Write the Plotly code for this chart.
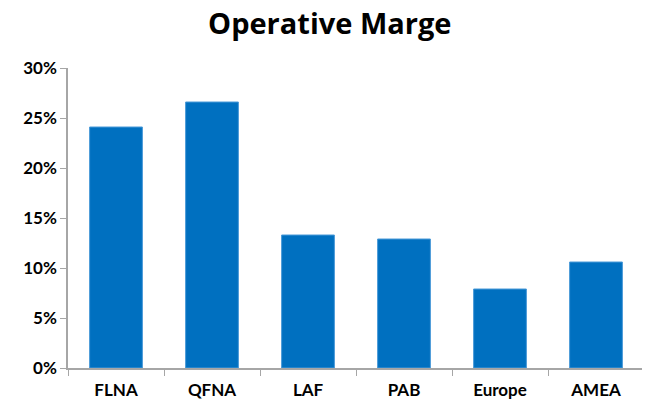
import plotly.graph_objects as go

# Dados
segmentos = ["FLNA", "QFNA", "LAF", "PAB", "Europe", "AMEA"]
margem = [0.241, 0.266, 0.133, 0.129, 0.079, 0.106]
y_ticks = [0, 0.05, 0.10, 0.15, 0.20, 0.25, 0.30]

fig = go.Figure()

fig.add_trace(go.Bar(
    x=segmentos,
    y=margem,
    marker=dict(color="#0070C0", line=dict(color="#4a9ad8", width=1)),
    width=0.55,
))

fig.update_layout(
    title=dict(
        text="Operative Marge",
        x=0.495, xanchor="center", y=0.96, yanchor="middle",
        font=dict(family="Open Sans, sans-serif", size=29, color="black", weight="bold"),
    ),
    width=650,
    height=401,
    margin=dict(l=60, r=14, t=60, b=41),
    plot_bgcolor="white",
    paper_bgcolor="white",
    showlegend=False,
    font=dict(family="Lato, Open Sans, sans-serif", color="black"),
    xaxis=dict(
        showline=True, linecolor="#a6a6a6", linewidth=1.5,
        ticks="outside", tickson="boundaries", ticklen=6, tickcolor="#a6a6a6",
        tickfont=dict(size=17, color="black", weight="bold"),
        ticklabelstandoff=6,
        automargin=False,
        showgrid=False,
    ),
    yaxis=dict(
        range=[0, 0.30],
        tickvals=y_ticks,
        tickformat=".0%",
        showline=True, linecolor="#a6a6a6", linewidth=1.5,
        ticks="outside", ticklen=6, tickcolor="#a6a6a6",
        tickfont=dict(size=17, color="black", weight="bold"),
        showgrid=False, zeroline=False,
    ),
)

fig.write_html("out.html")
